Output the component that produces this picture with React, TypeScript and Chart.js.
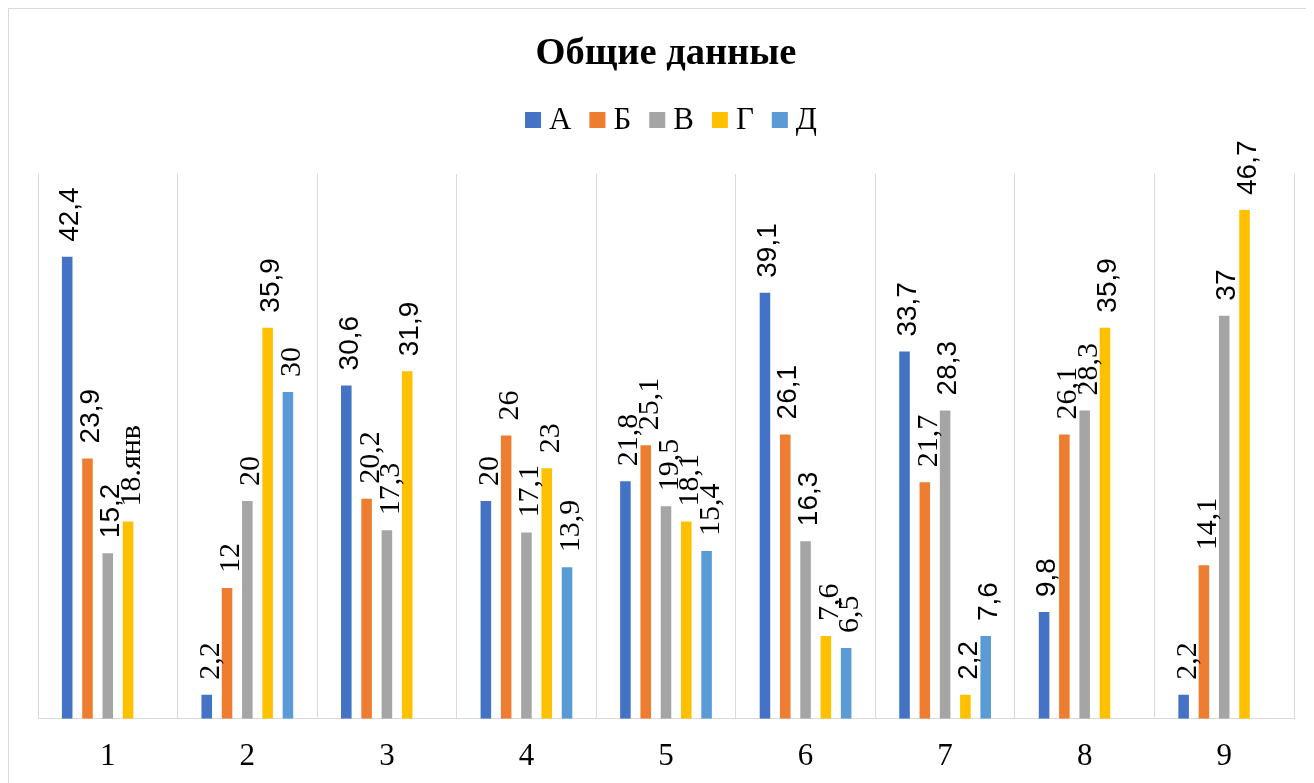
import React, { useEffect, useRef } from 'react';
import { Chart, registerables } from 'chart.js';

Chart.register(...registerables);

const categories = ['1', '2', '3', '4', '5', '6', '7', '8', '9'];
const seriesNames = ['А', 'Б', 'В', 'Г', 'Д'];
const valuesA = [42.4, 2.2, 30.6, 20, 21.8, 39.1, 33.7, 9.8, 2.2];
const valuesB = [23.9, 12, 20.2, 26, 25.1, 26.1, 21.7, 26.1, 14.1];
const valuesV = [15.2, 20, 17.3, 17.1, 19.5, 16.3, 28.3, 28.3, 37];
const valuesG = [18.1, 35.9, 31.9, 23, 18.1, 7.6, 2.2, 35.9, 46.7];
const valuesD = [null, 30, null, 13.9, 15.4, 6.5, 7.6, null, null];
// label text that differs from the plain value (Excel date artefact)
const labelOverrides: Record<string, string> = { '3-0': '18.янв' };
// 1 = label drawn in sans face, 0 = serif face (as in the reference)
const sansLabelFlags = [
  [1, 0, 1, 0, 0, 1, 1, 1, 0],
  [1, 0, 0, 0, 0, 1, 0, 0, 0],
  [1, 0, 0, 0, 0, 1, 1, 0, 1],
  [0, 1, 1, 0, 0, 0, 1, 1, 1],
  [0, 0, 0, 0, 0, 0, 1, 0, 0],
];
const colors = ['#4472C4', '#ED7D31', '#A5A5A5', '#FFC000', '#5B9BD5'];
const titleText = 'Общие данные';

const SERIF = "'Liberation Serif', serif";
const SANS = "'Liberation Sans', sans-serif";

const dataLabelPlugin = {
  id: 'barLabels',
  afterDatasetsDraw(chart: any) {
    const ctx: CanvasRenderingContext2D = chart.ctx;
    chart.data.datasets.forEach((ds: any, i: number) => {
      const meta = chart.getDatasetMeta(i);
      meta.data.forEach((bar: any, j: number) => {
        const v = ds.data[j];
        if (v == null) return;
        const key = i + '-' + j;
        const text = labelOverrides[key] !== undefined ? labelOverrides[key] : String(v).replace('.', ',');
        const sans = sansLabelFlags[i][j] === 1;
        const size = sans ? 28 : 30;
        ctx.save();
        ctx.font = sans ? '28px ' + SANS : '30px ' + SERIF;
        ctx.fillStyle = '#000';
        ctx.translate(bar.x + size * 0.4, bar.y - 15);
        ctx.rotate(-Math.PI / 2);
        ctx.textAlign = 'left';
        ctx.textBaseline = 'alphabetic';
        ctx.fillText(text, 0, 0);
        ctx.restore();
      });
    });
  },
};

const legendPlugin = {
  id: 'customLegend',
  afterDraw(chart: any) {
    const ctx: CanvasRenderingContext2D = chart.ctx;
    const box = 16;
    const gap = 8;
    const itemGap = 18;
    ctx.save();
    ctx.font = '31px ' + SERIF;
    const widths = seriesNames.map((n) => ctx.measureText(n).width);
    const total = widths.reduce((a, w) => a + box + gap + w, 0) + itemGap * (seriesNames.length - 1);
    let x = chart.width / 2 - total / 2 + 4;
    const cy = 111;
    seriesNames.forEach((n, i) => {
      ctx.fillStyle = colors[i];
      ctx.fillRect(x, cy - box / 2, box, box);
      ctx.fillStyle = '#000';
      ctx.textAlign = 'left';
      ctx.textBaseline = 'middle';
      ctx.fillText(n, x + box + gap, cy + 1);
      x += box + gap + widths[i] + itemGap;
    });
    ctx.restore();
  },
};

export default function App() {
  const ref = useRef<HTMLCanvasElement | null>(null);
  useEffect(() => {
    document.body.style.overflow = 'hidden';
    const seriesValues = [valuesA, valuesB, valuesV, valuesG, valuesD];
    const chart = new Chart(ref.current as HTMLCanvasElement, {
      type: 'bar',
      data: {
        labels: categories,
        datasets: seriesNames.map((name, i) => ({
          label: name,
          data: seriesValues[i] as any,
          backgroundColor: colors[i],
          borderWidth: 0,
          categoryPercentage: 0.727,
          barPercentage: 0.52,
        })),
      },
      options: {
        responsive: false,
        animation: false,
        layout: { padding: { left: 29, right: 31, top: 0, bottom: 7 } },
        plugins: {
          legend: { display: false },
          tooltip: { enabled: false },
          title: {
            display: true,
            text: titleText,
            color: '#000',
            font: { family: SERIF, size: 38.5, weight: 'bold' },
            padding: { top: 22, bottom: 96.8 },
          },
        },
        scales: {
          x: {
            grid: { color: '#D9D9D9', drawTicks: false, offset: true, lineWidth: 1 },
            border: { color: '#D9D9D9', width: 1 },
            ticks: { color: '#000', font: { family: SERIF, size: 31 }, padding: 19 },
          },
          y: { display: false, min: 0, max: 50 },
        },
      },
      plugins: [dataLabelPlugin, legendPlugin],
    });
    return () => chart.destroy();
  }, []);
  return (
    <div
      style={{
        position: 'relative',
        width: 1318,
        height: 820,
        border: '1px solid #D9D9D9',
        boxSizing: 'border-box',
        background: '#fff',
      }}
    >
      <canvas ref={ref} width={1316} height={792} style={{ display: 'block' }} />
    </div>
  );
}
